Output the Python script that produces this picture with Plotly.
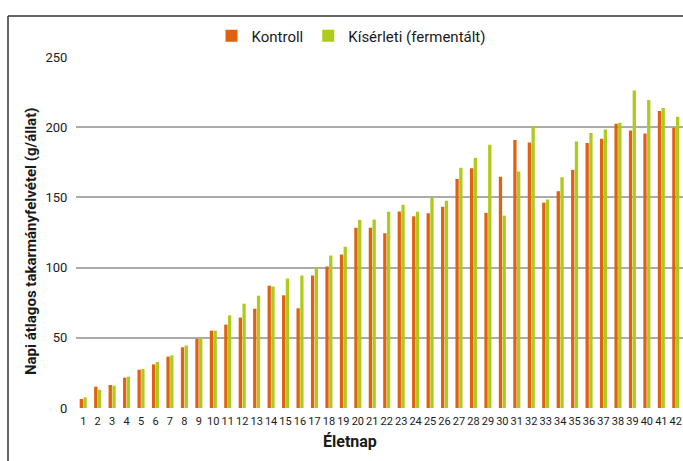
import plotly.graph_objects as go

days = [str(d) for d in range(1, 43)]
kontroll = [6.4, 15.2, 16.4, 21.6, 27.3, 31.1, 36.6, 43.2, 49.3, 55.1,
            59.4, 64.4, 70.7, 87.1, 80.3, 71.0, 94.4, 100.8, 109.3, 128.4,
            128.4, 124.5, 139.9, 136.5, 138.7, 143.3, 163.2, 170.8, 139.0, 164.7,
            190.8, 189.1, 146.3, 154.4, 169.6, 188.7, 191.8, 202.4, 197.7, 195.5,
            211.5, 199.6]
kiserleti = [7.6, 13.0, 15.9, 22.3, 27.8, 32.8, 37.5, 44.5, 49.8, 55.1,
             66.0, 74.3, 80.0, 86.5, 92.3, 94.4, 100.3, 108.6, 114.8, 134.0,
             134.2, 139.7, 144.7, 139.7, 149.7, 147.7, 171.1, 178.2, 187.5, 137.0,
             168.5, 200.7, 148.5, 164.4, 189.8, 195.8, 198.4, 203.1, 226.2, 219.3,
             213.6, 207.5]
y_ticks = [0, 50, 100, 150, 200, 250]

W, H = 683, 461
ML, MR, MT, MB = 76, 0, 57, 53
PW, PH = W - ML - MR, H - MT - MB

FONT = "Roboto, Liberation Sans Narrow, sans-serif"
ORANGE = "#E0620E"
GREEN = "#AECB1C"

fig = go.Figure()
fig.add_trace(go.Bar(x=days, y=kontroll, name="Kontroll", marker_color=ORANGE,
                     marker_line_width=0))
fig.add_trace(go.Bar(x=days, y=kiserleti, name="Kísérleti (fermentált)", marker_color=GREEN,
                     marker_line_width=0))

def px_x(p):
    return (p - ML) / PW

def px_y(p):
    return (H - MB - p) / PH

fig.update_layout(
    width=W, height=H,
    margin=dict(l=ML, r=MR, t=MT, b=MB),
    paper_bgcolor="white", plot_bgcolor="white",
    barmode="group", bargap=0.48, bargroupgap=0.12,
    font=dict(family=FONT, color="#1a1a1a", size=13),
    showlegend=True,
    legend=dict(orientation="h", x=px_x(351), xanchor="center",
                y=px_y(36), yanchor="middle",
                font=dict(size=15, family=FONT, color="#1a1a1a"),
                itemwidth=30, traceorder="normal"),
    xaxis=dict(type="category", showgrid=False, zeroline=False, showline=False,
               tickmode="array", tickvals=days, ticktext=days,
               ticks="outside", ticklen=3, tickcolor="rgba(0,0,0,0)",
               tickfont=dict(size=11, family=FONT, color="#1a1a1a"),
               tickangle=0, automargin=False),
    yaxis=dict(range=[0, 250], tickvals=y_ticks, showgrid=True,
               gridcolor="#ababab", gridwidth=1.5, zeroline=False, showline=False,
               ticks="outside", ticklen=5, tickcolor="rgba(0,0,0,0)",
               tickfont=dict(size=13, family=FONT, color="#1a1a1a"),
               automargin=False),
    annotations=[
        dict(text="<b>Napi átlagos takarmányfelvétel (g/állat)</b>", textangle=-90,
             xref="paper", yref="paper", x=px_x(31), y=px_y(242),
             xanchor="center", yanchor="middle", showarrow=False,
             font=dict(size=15, family=FONT, color="#1a1a1a")),
        dict(text="<b>Életnap</b>",
             xref="paper", yref="paper", x=px_x(350), y=px_y(441),
             xanchor="center", yanchor="middle", showarrow=False,
             font=dict(size=16, family=FONT, color="#1a1a1a")),
    ],
    shapes=[
        dict(type="line", xref="paper", yref="paper", x0=px_x(8), x1=px_x(8),
             y0=px_y(16), y1=px_y(470), line=dict(color="#333333", width=1.5)),
        dict(type="line", xref="paper", yref="paper", x0=px_x(8), x1=px_x(700),
             y0=px_y(16), y1=px_y(16), line=dict(color="#333333", width=1.5)),
    ],
)

fig.write_html("out.html", config={"displayModeBar": False},
               post_script="document.body.style.margin='0';document.body.style.overflow='hidden';")
